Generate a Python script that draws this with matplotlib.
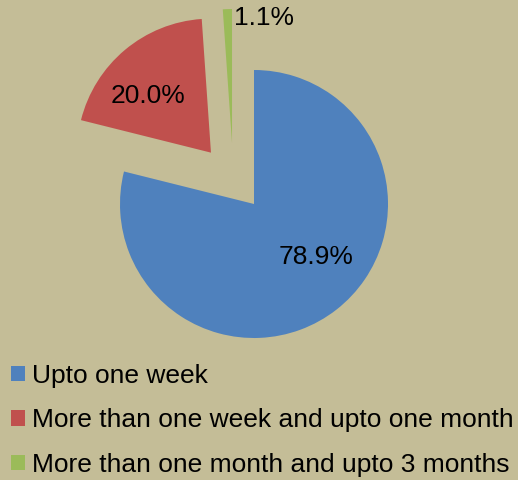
import matplotlib.pyplot as plt

plt.rcParams["font.family"] = ["Liberation Sans", "DejaVu Sans"]

CATEGORIES = [
    "Upto one week",
    "More than one week and upto one month",
    "More than one month and upto 3 months",
]
SHARES = [78.9, 20.0, 1.1]
COLORS = ["#4F81BD", "#C0504D", "#9BBB59"]
BG = "#C4BD97"

# label spots (data units, pie radius = 1)
LABEL_POS = [(0.466, -0.392), (-0.791, 0.806), (0.075, 1.388)]

fig = plt.figure(figsize=(5.18, 4.8), dpi=100, facecolor=BG)
ax = fig.add_axes([0, 0, 1, 1])
ax.set_facecolor(BG)

wedges, texts, autotexts = ax.pie(
    SHARES,
    colors=COLORS,
    startangle=90,
    counterclock=False,
    explode=[0, 0.5, 0.46],
    autopct="%.1f%%",
    radius=1.0,
    wedgeprops=dict(linewidth=0),
    textprops=dict(fontsize=19, color="black"),
)
# Excel pushed the thin slice a bit off its own axis
wedges[2].set_center((-0.164, 0.455))

for t, pos in zip(autotexts, LABEL_POS):
    t.set_position(pos)
    t.set_ha("center")
    t.set_va("center")

scale = 134.0
cx, cy = 254.0, 204.0
ax.set_xlim(-cx / scale, (518 - cx) / scale)
ax.set_ylim(-(480 - cy) / scale, cy / scale)
ax.set_aspect("equal")
ax.axis("off")

fig.legend(
    wedges,
    CATEGORIES,
    loc="upper left",
    bbox_to_anchor=(0.021, 0.242),
    frameon=False,
    fontsize=19,
    handlelength=0.53,
    handleheight=0.53,
    handletextpad=0.27,
    labelspacing=0.78,
    borderpad=0,
    borderaxespad=0,
)

fig.savefig("out.png", dpi=100, facecolor=BG)
